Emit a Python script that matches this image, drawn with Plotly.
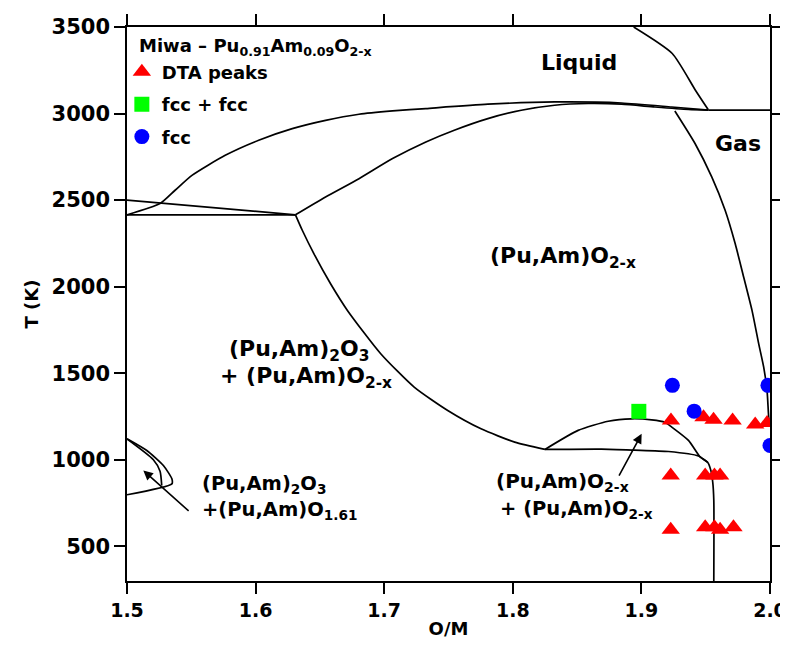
import plotly.graph_objects as go

# ---------------- data (O/M, T in K) ----------------
# phase-boundary curves
liq_top_om = [1.894, 1.924, 1.942, 1.952]
liq_top_T = [3500, 3347, 3135, 3022]

gas_line_om = [1.952, 2.0]
gas_line_T = [3020, 3020]

gas_bnd_om = [1.926, 1.9417, 1.9547, 1.9651, 1.9729, 1.9795, 1.9860, 1.9912, 1.9951, 1.9977, 1.9990, 2.0]
gas_bnd_T = [3015, 2827, 2634, 2441, 2249, 2056, 1863, 1671, 1535, 1401, 1246, 1190]

liquidus_om = [1.5, 1.5257, 1.5374, 1.5505, 1.5764, 1.6024, 1.6285, 1.6544, 1.6804, 1.7065,
               1.7324, 1.7806, 1.8325, 1.8846, 1.9236, 1.952]
liquidus_T = [2415, 2480, 2557, 2643, 2759, 2846, 2913, 2961, 2996, 3015,
              3029, 3054, 3067, 3061, 3038, 3020]

solidus_om = [1.631, 1.6544, 1.6804, 1.7065, 1.7324, 1.7545, 1.7806, 1.8066, 1.8325, 1.8586,
              1.8846, 1.9105, 1.9366, 1.952]
solidus_T = [2415, 2518, 2624, 2740, 2836, 2904, 2971, 3019, 3048, 3058,
             3054, 3038, 3024, 3020]

eut_h_om = [1.5, 1.631]
eut_h_T = [2415, 2415]

eut_s_om = [1.5, 1.631]
eut_s_T = [2500, 2415]

big_om = [1.631, 1.6363, 1.6453, 1.6583, 1.6714, 1.6973, 1.7233, 1.7494, 1.7753, 1.8015, 1.825]
big_T = [2415, 2326, 2191, 2017, 1863, 1613, 1420, 1285, 1179, 1102, 1060]

dome_om = [1.825, 1.8508, 1.8742, 1.8924, 1.9080, 1.9183, 1.9236, 1.9366, 1.9458, 1.9516,
           1.954, 1.9555, 1.9563, 1.9563]
dome_T = [1060, 1170, 1223, 1237, 1231, 1217, 1189, 1112, 1015, 985,
          939, 869, 766, 300]

gap_om = [1.825, 1.869, 1.8947, 1.921, 1.9444, 1.9516]
gap_T = [1060, 1062, 1056, 1048, 1022, 985]

lens_out_om = [1.5, 1.5154, 1.5283, 1.5349, 1.5349, 1.5]
lens_out_T = [1122, 1054, 967, 890, 861, 798]

lens_in_om = [1.5, 1.5205, 1.5257, 1.527]
lens_in_T = [1120, 1000, 934, 852]

# experimental points
dta_om = [1.9230, 1.9483, 1.9561, 1.9709, 1.9885, 1.9977,
          1.9228, 1.9496, 1.9568, 1.9612,
          1.9228, 1.9496, 1.9568, 1.9612, 1.9716]
dta_T = [1227, 1246, 1231, 1227, 1204, 1212,
         909, 909, 909, 909,
         596, 611, 611, 596, 611]

fcc2_om = [1.898]
fcc2_T = [1280]

fcc_om = [1.9241, 1.941, 1.9984, 2.0]
fcc_T = [1430, 1281, 1430, 1083]

x_ticks = [1.5, 1.6, 1.7, 1.8, 1.9, 2.0]
x_ticklabels = ["1.5", "1.6", "1.7", "1.8", "1.9", "2.0"]
y_ticks = [500, 1000, 1500, 2000, 2500, 3000, 3500]

FONT = "DejaVu Sans, Arial, sans-serif"

fig = go.Figure()

curves = [
    (liq_top_om, liq_top_T), (gas_line_om, gas_line_T), (gas_bnd_om, gas_bnd_T),
    (liquidus_om, liquidus_T), (solidus_om, solidus_T), (eut_h_om, eut_h_T),
    (eut_s_om, eut_s_T), (big_om, big_T), (dome_om, dome_T), (gap_om, gap_T),
    (lens_out_om, lens_out_T), (lens_in_om, lens_in_T),
]
for cx, cy in curves:
    fig.add_trace(go.Scatter(x=cx, y=cy, mode="lines",
                             line=dict(color="black", width=1.7, shape="spline", smoothing=0.6),
                             showlegend=False, hoverinfo="skip"))

fig.add_trace(go.Scatter(x=dta_om, y=dta_T, mode="markers", name="DTA peaks", legendgroup="a",
                         marker=dict(symbol="triangle-up", size=16, color="#ff0000")))
fig.add_trace(go.Scatter(x=fcc2_om, y=fcc2_T, mode="markers", name="fcc + fcc", legendgroup="b",
                         marker=dict(symbol="square", size=15, color="#00ff00")))
fig.add_trace(go.Scatter(x=fcc_om, y=fcc_T, mode="markers", name="fcc", legendgroup="c",
                         marker=dict(symbol="circle", size=15, color="#0000ff")))


def ann(text, x, y, size=20, xanchor="center", xref="x", yref="y"):
    fig.add_annotation(x=x, y=y, text=text, showarrow=False, xanchor=xanchor, yanchor="middle",
                       xref=xref, yref=yref,
                       font=dict(family=FONT, size=size, color="black", weight="bold"))


ann("Liquid", 1.8518, 3297, size=22)
ann("Gas", 1.975, 2828, size=22)
ann("(Pu,Am)O<sub>2-x</sub>", 1.8393, 2170, size=22)
ann("(Pu,Am)<sub>2</sub>O<sub>3</sub>", 1.6338, 1630, size=22)
ann("+ (Pu,Am)O<sub>2-x</sub>", 1.6393, 1478, size=22)
ann("(Pu,Am)<sub>2</sub>O<sub>3</sub>", 1.5569, 860, size=19.5, xanchor="left")
ann("+(Pu,Am)O<sub>1.61</sub>", 1.5569, 710, size=19.5, xanchor="left")
ann("(Pu,Am)O<sub>2-x</sub>", 1.7855, 873, size=20, xanchor="left")
ann("+ (Pu,Am)O<sub>2-x</sub>", 1.7886, 712, size=19.5, xanchor="left")
# legend heading
ann("Miwa – Pu<sub>0.91</sub>Am<sub>0.09</sub>O<sub>2-x</sub>", 0.0156, 0.964, size=18,
    xanchor="left", xref="paper", yref="paper")

# arrows
fig.add_annotation(x=1.5127, y=938, ax=1.5491, ay=697, axref="x", ayref="y", xref="x", yref="y",
                   text="", showarrow=True, arrowhead=2, arrowsize=1.2, arrowwidth=1.6, arrowcolor="black")
fig.add_annotation(x=1.9002, y=1150, ax=1.882, ay=900, axref="x", ayref="y", xref="x", yref="y",
                   text="", showarrow=True, arrowhead=2, arrowsize=1.2, arrowwidth=1.6, arrowcolor="black")

axis_common = dict(showline=True, linecolor="black", linewidth=1.6, mirror="ticks", ticks="outside",
                   ticklen=11, tickwidth=1.6, tickcolor="black", showgrid=False, zeroline=False,
                   automargin=False, ticklabeloverflow="allow")

fig.update_xaxes(range=[1.5, 2.0], tickvals=x_ticks, ticktext=x_ticklabels,
                 tickfont=dict(family=FONT, size=19, color="black", weight="bold"),
                 title=dict(text="O/M", font=dict(family=FONT, size=18, color="black", weight="bold"),
                            standoff=3),
                 **axis_common)
fig.update_yaxes(range=[300, 3500], tickvals=y_ticks,
                 tickfont=dict(family=FONT, size=21, color="black", weight="bold"),
                 title=dict(text="T (K)", font=dict(family=FONT, size=18, color="black", weight="bold"),
                            standoff=8),
                 **axis_common)

# page body has an 8px default margin, so the figure is sized to fill the remaining window
fig.update_layout(
    width=780, height=645,
    margin=dict(l=119, r=18, t=19, b=72),
    plot_bgcolor="white", paper_bgcolor="white",
    legend=dict(x=-0.008, y=0.952, xanchor="left", yanchor="top", bgcolor="rgba(0,0,0,0)",
                font=dict(family=FONT, size=18, color="black", weight="bold"),
                tracegroupgap=6, itemwidth=30),
)

fig.write_html("out.html")
